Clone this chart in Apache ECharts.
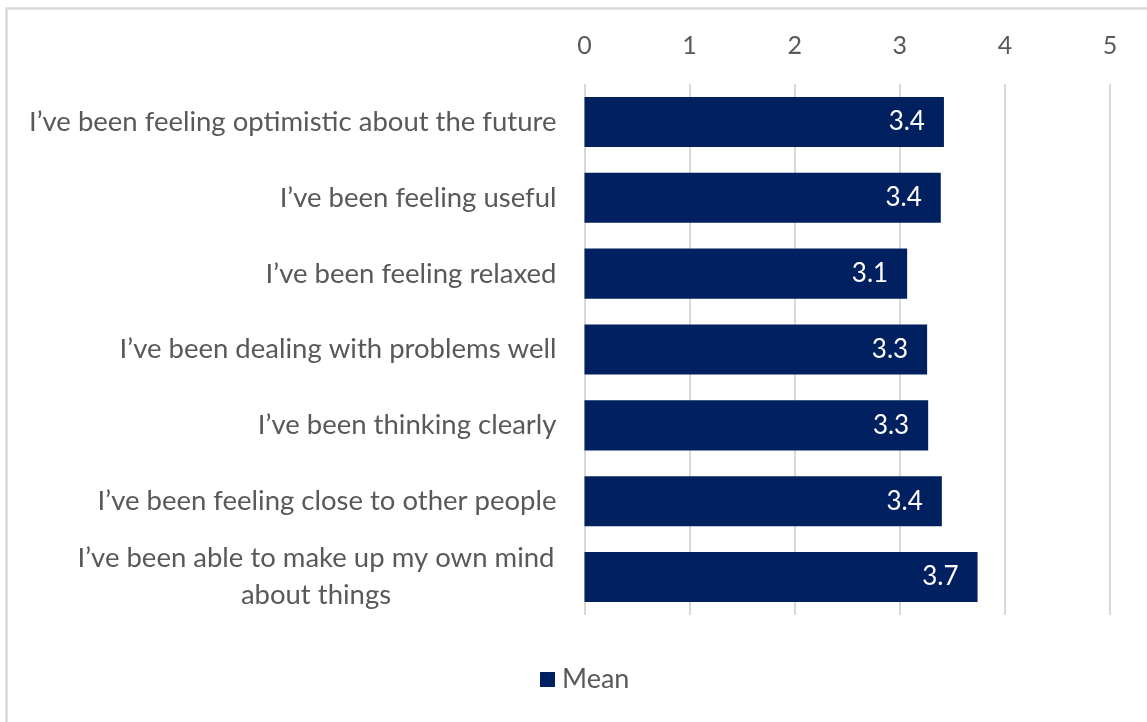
<!DOCTYPE html>
<html>
<head>
<meta charset="utf-8">
<script src="https://cdn.jsdelivr.net/npm/echarts@6/dist/echarts.min.js"></script>
<style>
  html, body { margin: 0; padding: 0; background: #ffffff; }
  #chart { width: 1147px; height: 722px; }
</style>
</head>
<body>
<div id="chart"></div>
<script>
// Survey statements (top to bottom) and their mean scores on a 0–5 scale
const categories = [
  "I\u2019ve been feeling optimistic about the future",
  "I\u2019ve been feeling useful",
  "I\u2019ve been feeling relaxed",
  "I\u2019ve been dealing with problems well",
  "I\u2019ve been thinking clearly",
  "I\u2019ve been feeling close to other people",
  "I\u2019ve been able to make up my own mind\nabout things"
];
const meanValues = [3.42, 3.39, 3.07, 3.26, 3.27, 3.40, 3.74];
const seriesName = "Mean";
const axisMin = 0;
const axisMax = 5;
const axisStep = 1;

const FONT = "Lato";
const TEXT = "#595959";
const NAVY = "#002060";
const GRID = "#d9d9d9";
const CAT_SIZE = 27.5;

const chart = echarts.init(document.getElementById("chart"), null, { renderer: "canvas" });

// Multi-line labels: each line centred within the block, block right-aligned
function catLabel(value) {
  if (value.indexOf("\n") < 0) return value;
  return value.split("\n").map(s => "{c|" + s + "}").join("\n");
}

chart.setOption({
  animation: false,
  backgroundColor: "#ffffff",
  textStyle: { fontFamily: FONT },
  graphic: [{
    type: "rect",
    shape: { x: 6.5, y: 8.5, width: 1400, height: 1000 },
    style: { fill: "none", stroke: GRID, lineWidth: 2.5 },
    silent: true
  }],
  grid: { left: 584.5, right: 37, top: 84, bottom: 107, containLabel: false },
  xAxis: {
    type: "value",
    position: "top",
    min: axisMin,
    max: axisMax,
    interval: axisStep,
    axisLine: { show: false },
    axisTick: { show: false },
    axisLabel: { color: TEXT, fontSize: 25, fontFamily: FONT, margin: 26 },
    splitLine: { show: true, lineStyle: { color: GRID, width: 2 } }
  },
  yAxis: {
    type: "category",
    inverse: true,
    data: categories,
    axisLine: { show: false },
    axisTick: { show: false },
    axisLabel: {
      color: TEXT, fontSize: CAT_SIZE, fontFamily: FONT, margin: 28,
      lineHeight: 37,
      formatter: catLabel,
      rich: {
        c: { color: TEXT, fontSize: CAT_SIZE, fontFamily: FONT, width: 481, align: "center", lineHeight: 37 }
      }
    }
  },
  legend: {
    bottom: 24,
    left: 535,
    icon: "rect",
    itemWidth: 15,
    itemHeight: 15,
    itemGap: 10,
    textStyle: { color: TEXT, fontSize: 27, fontFamily: FONT, padding: [0, 0, 0, 2] },
    data: [seriesName]
  },
  series: [{
    name: seriesName,
    type: "bar",
    data: meanValues,
    barWidth: "66%",
    itemStyle: { color: NAVY },
    label: {
      show: true,
      position: "insideRight",
      distance: 19,
      color: "#ffffff",
      fontSize: 26,
      fontFamily: FONT,
      formatter: p => p.value.toFixed(1)
    }
  }]
});
</script>
</body>
</html>
